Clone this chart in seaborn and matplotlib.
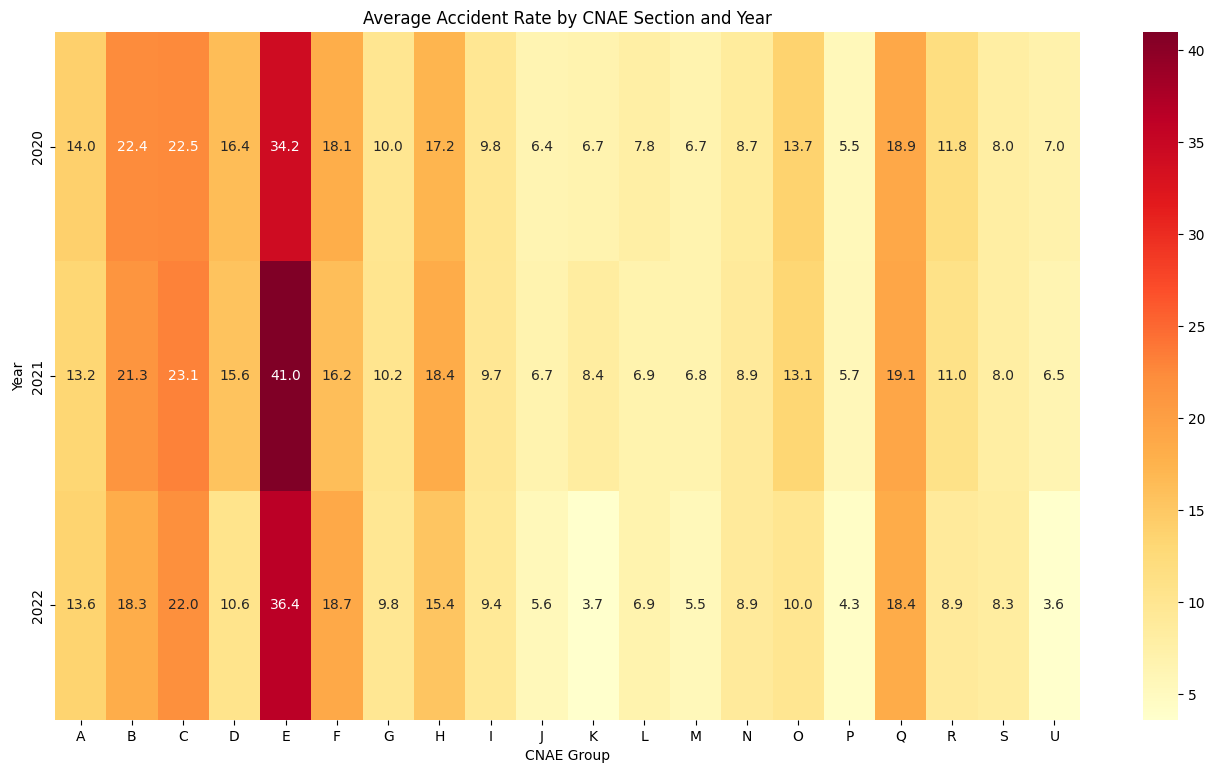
import matplotlib
matplotlib.use("Agg")
import matplotlib.pyplot as plt
import pandas as pd
import seaborn as sns

sections = ['A', 'B', 'C', 'D', 'E', 'F', 'G', 'H', 'I', 'J',
            'K', 'L', 'M', 'N', 'O', 'P', 'Q', 'R', 'S', 'U']
years = [2020, 2021, 2022]

rate_2020 = [14.0, 22.4, 22.5, 16.4, 34.2, 18.1, 10.0, 17.2, 9.8, 6.4,
             6.7, 7.8, 6.7, 8.7, 13.7, 5.5, 18.9, 11.8, 8.0, 7.0]
rate_2021 = [13.2, 21.3, 23.1, 15.6, 41.0, 16.2, 10.2, 18.4, 9.7, 6.7,
             8.4, 6.9, 6.8, 8.9, 13.1, 5.7, 19.1, 11.0, 8.0, 6.5]
rate_2022 = [13.6, 18.3, 22.0, 10.6, 36.4, 18.7, 9.8, 15.4, 9.4, 5.6,
             3.7, 6.9, 5.5, 8.9, 10.0, 4.3, 18.4, 8.9, 8.3, 3.6]

pivot = pd.DataFrame([rate_2020, rate_2021, rate_2022],
                     index=pd.Index(years, name='Year'),
                     columns=pd.Index(sections, name='CNAE Group'))

fig = plt.figure(figsize=(12.12, 7.64), dpi=100)
ax = fig.add_axes([0.0454, 0.0576, 0.8457, 0.9005])
cax = fig.add_axes([0.943, 0.0576, 0.029, 0.9005])

sns.heatmap(pivot, annot=True, fmt='.1f', cmap='YlOrRd', ax=ax, cbar_ax=cax)
ax.set_title('Average Accident Rate by CNAE Section and Year')

fig.savefig('out.png', dpi=100)
